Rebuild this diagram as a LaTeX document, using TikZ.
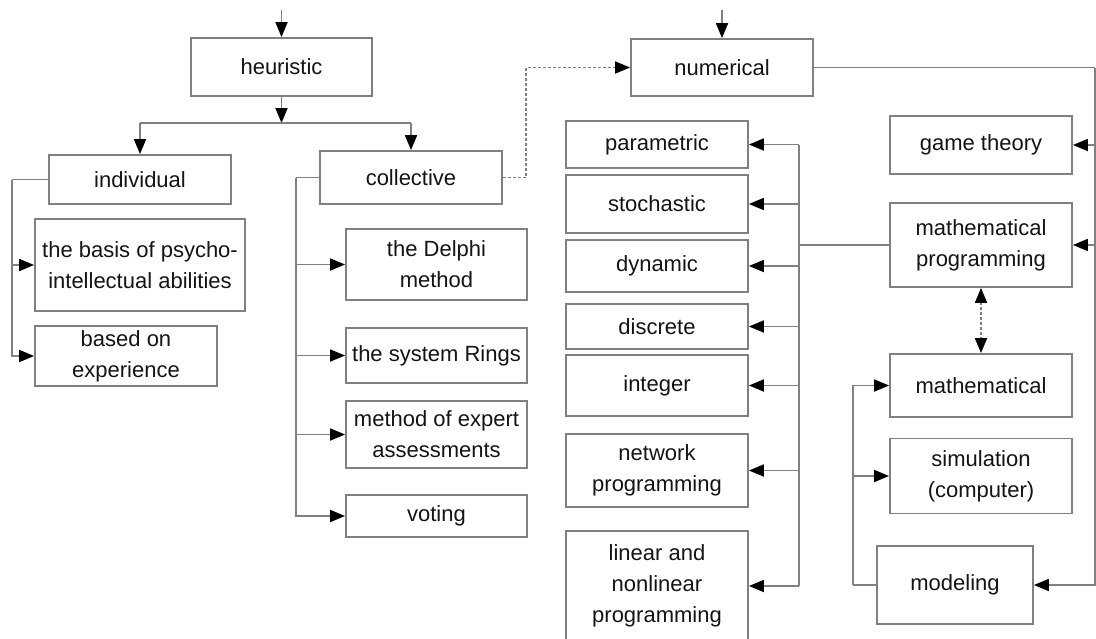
\documentclass[tikz,border=0pt]{standalone}
\usepackage{fontspec}
\setmainfont{Liberation Sans}
\usetikzlibrary{arrows.meta}
\definecolor{linecol}{RGB}{128,128,128}
\definecolor{txtcol}{RGB}{20,20,20}
\tikzset{
  tip/.style={-{Triangle[length=15pt,width=12pt,black]}},
  box/.style={draw=linecol, line width=1.8pt, fill=white, inner sep=2pt,
    align=center, text=txtcol, font=\fontsize{22pt}{31pt}\selectfont},
  ln/.style={draw=linecol, line width=1.8pt},
  arr/.style={ln, tip},
  darr/.style={ln, dash pattern=on 3pt off 2pt, tip},
  ddarr/.style={ln, dash pattern=on 3pt off 2pt,
    {Triangle[length=15pt,width=12pt,black]}-{Triangle[length=15pt,width=12pt,black]}},
}
\begin{document}
\begin{tikzpicture}[x=1pt, y=-1pt]
\fill[white] (0,0) rectangle (1096,638);
\useasboundingbox (0,0) rectangle (1096,638);

% heuristic branch
\node[box, minimum width=181pt, minimum height=58pt] (heur) at (281.5,67) {heuristic};
\node[box, minimum width=182pt, minimum height=49pt] (indiv) at (140,179.5) {individual};
\node[box, minimum width=182pt, minimum height=53pt] (coll) at (411,177.5) {collective};
\node[box, minimum width=210pt, minimum height=92pt] (basis) at (140,265) {the basis of psycho-\\intellectual abilities};
\node[box, minimum width=182pt, minimum height=60pt] (exper) at (126,356) {based on\\experience};
\node[box, minimum width=181pt, minimum height=71pt] (delphi) at (436.5,264.5) {the Delphi\\method};
\node[box, minimum width=181pt, minimum height=55pt] (rings) at (436.5,355.5) {the system Rings};
\node[box, minimum width=181pt, minimum height=67pt] (expert) at (436.5,434.5) {method of expert\\assessments};
\node[box, minimum width=181pt, minimum height=42pt] (voting) at (436.5,516) {voting};

% numerical branch
\node[box, minimum width=182pt, minimum height=57pt] (num) at (722,67.5) {numerical};
\node[box, minimum width=182pt, minimum height=47pt] (param) at (657,144.5) {parametric};
\node[box, minimum width=182pt, minimum height=58pt] (stoch) at (657,204) {stochastic};
\node[box, minimum width=182pt, minimum height=52pt] (dyn) at (657,266) {dynamic};
\node[box, minimum width=182pt, minimum height=45pt] (disc) at (657,326.5) {discrete};
\node[box, minimum width=182pt, minimum height=61pt] (integ) at (657,385.5) {integer};
\node[box, minimum width=182pt, minimum height=73pt] (netw) at (657,470.5) {network\\programming};
\node[box, minimum width=182pt, minimum height=110pt] (linear) at (657,586) {linear and\\nonlinear\\programming};
\node[box, minimum width=182pt, minimum height=58pt] (game) at (981,145) {game theory};
\node[box, minimum width=182pt, minimum height=84pt] (mprog) at (981,245) {mathematical\\programming};
\node[box, minimum width=182pt, minimum height=63pt] (math) at (981,385.5) {mathematical};
\node[box, minimum width=182pt, minimum height=75pt] (simul) at (981,476) {simulation\\(computer)};
\node[box, minimum width=156pt, minimum height=78pt] (model) at (955,585) {modeling};

% entry points and junctions
\coordinate (hin) at (281.5,10);
\coordinate (nin) at (722,10);
\coordinate (hj) at (281.5,123);
\coordinate (hjl) at (140,123);
\coordinate (hjr) at (411,123);
\coordinate (lb) at (12,179.5);
\coordinate (cb) at (296,177.5);
\coordinate (dj) at (526,120);
\coordinate (rb) at (1095,67.5);
\coordinate (nb) at (799,245);
\coordinate (mb) at (853,585);

% heuristic connectors
\draw[arr] (hin) -- (heur.north);
\draw[arr] (heur.south) -- (hj);
\draw[ln] (hjl) -- (hjr);
\draw[arr] (hjl) -- (indiv.north);
\draw[arr] (hjr) -- (coll.north);
\draw[ln] (indiv.west) -- (lb);
\draw[arr] (lb) |- (exper.west);
\draw[arr] (lb |- basis.west) -- (basis.west);
\draw[ln] (coll.west) -- (cb);
\draw[arr] (cb) |- (voting.west);
\draw[arr] (cb |- delphi.west) -- (delphi.west);
\draw[arr] (cb |- rings.west) -- (rings.west);
\draw[arr] (cb |- expert.west) -- (expert.west);
\draw[darr] (coll.east) -| (dj) |- (num.west);

% numerical connectors
\draw[arr] (nin) -- (num.north);
\draw[ln] (num.east) -- (rb);
\draw[arr] (rb) |- (model.east);
\draw[arr] (rb |- game.east) -- (game.east);
\draw[arr] (rb |- mprog.east) -- (mprog.east);
\draw[ln] (mprog.west) -- (nb);
\draw[ln] (nb |- param.east) -- (nb |- linear.east);
\draw[arr] (nb |- param.east) -- (param.east);
\draw[arr] (nb |- stoch.east) -- (stoch.east);
\draw[arr] (nb |- dyn.east) -- (dyn.east);
\draw[arr] (nb |- disc.east) -- (disc.east);
\draw[arr] (nb |- integ.east) -- (integ.east);
\draw[arr] (nb |- netw.east) -- (netw.east);
\draw[arr] (nb |- linear.east) -- (linear.east);
\draw[ddarr] (mprog.south) -- (math.north);
\draw[ln] (model.west) -- (mb);
\draw[arr] (mb) |- (math.west);
\draw[arr] (mb |- simul.west) -- (simul.west);
\end{tikzpicture}
\end{document}
